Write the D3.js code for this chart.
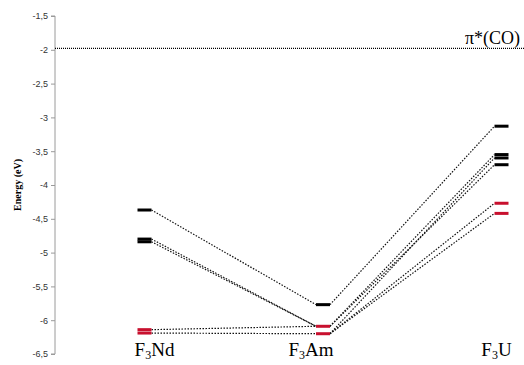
<!DOCTYPE html>
<html>
<head>
<meta charset="utf-8">
<script src="https://cdn.jsdelivr.net/npm/d3@7"></script>
<style>
  body { margin: 0; background: #fff; }
  svg { display: block; }
</style>
</head>
<body>
<div id="chart"></div>
<script>
// compounds on the x axis
var compounds = ["F3Nd", "F3Am", "F3U"];
// orbital energies (eV) for each compound, and if they are red (metal) levels
var ndLevels = [-4.37, -4.80, -4.84, -6.14, -6.19];
var ndRed    = [false, false, false, true, true];
var amLevels = [-5.77, -6.09, -6.20];
var amRed    = [false, true, true];
var uLevels  = [-3.13, -3.55, -3.60, -3.70, -4.27, -4.42];
var uRed     = [false, false, false, false, true, true];
// correlation lines: [from level index, to level index]
var ndToAm = [[0, 0], [1, 1], [2, 1], [3, 1], [4, 2]];
var amToU  = [[0, 0], [1, 1], [2, 2], [1, 3], [2, 4], [2, 5]];
var piCO = -2;
var yTicks = [-1.5, -2, -2.5, -3, -3.5, -4, -4.5, -5, -5.5, -6, -6.5];

var width = 524, height = 365;
var svg = d3.select("#chart").append("svg")
  .attr("width", width).attr("height", height);

var y = d3.scaleLinear().domain([-6.5, -1.5]).range([354, 16]);
var x = d3.scalePoint().domain(compounds).range([144.5, 501.5]);
var markW = 14;

var levels = {
  F3Nd: ndLevels.map((v, i) => ({v: v, red: ndRed[i]})),
  F3Am: amLevels.map((v, i) => ({v: v, red: amRed[i]})),
  F3U: uLevels.map((v, i) => ({v: v, red: uRed[i]}))
};

// y axis
var yAxis = d3.axisLeft(y).tickValues(yTicks).tickSize(4).tickPadding(3)
  .tickFormat(d => String(d).replace(".", ","));
var gy = svg.append("g").attr("transform", "translate(55,0)").call(yAxis);
gy.select(".domain").attr("stroke", "#9a9a9a").attr("d", "M-4,16H0V354H-4");
gy.selectAll(".tick line").attr("stroke", "#9a9a9a");
gy.selectAll(".tick text").attr("font-family", "Arial, 'Liberation Sans', sans-serif")
  .attr("font-size", 9).attr("fill", "#333");

svg.append("text")
  .attr("transform", "translate(21," + y(-4) + ") rotate(-90)")
  .attr("text-anchor", "middle")
  .attr("font-family", "'Liberation Serif', 'Times New Roman', serif")
  .attr("font-weight", "bold").attr("font-size", 10)
  .text("Energy (eV)");

// pi*(CO) reference line
svg.append("line")
  .attr("x1", 55).attr("x2", width)
  .attr("y1", y(piCO) - 1.5).attr("y2", y(piCO) - 1.5)
  .attr("stroke", "#000").attr("stroke-width", 1.2)
  .attr("stroke-dasharray", "1,1");
svg.append("text")
  .attr("x", 520).attr("y", y(piCO) - 6)
  .attr("text-anchor", "end")
  .attr("font-family", "'Liberation Serif', 'Times New Roman', serif")
  .attr("font-size", 18)
  .text("π*(CO)");

// correlation lines
function links(fromC, toC, pairs) {
  return pairs.map(p => ({
    x1: x(fromC) + markW / 2, y1: y(levels[fromC][p[0]].v),
    x2: x(toC) - markW / 2, y2: y(levels[toC][p[1]].v)
  }));
}
var allLinks = links("F3Nd", "F3Am", ndToAm).concat(links("F3Am", "F3U", amToU));
svg.append("g").selectAll("line").data(allLinks).join("line")
  .attr("x1", d => d.x1).attr("y1", d => d.y1)
  .attr("x2", d => d.x2).attr("y2", d => d.y2)
  .attr("stroke", "#111").attr("stroke-width", 1.2)
  .attr("stroke-dasharray", "1.5,1.5");

// level marks
compounds.forEach(function (c) {
  svg.append("g").selectAll("rect").data(levels[c]).join("rect")
    .attr("x", x(c) - markW / 2)
    .attr("y", d => y(d.v) - 1.5)
    .attr("width", markW).attr("height", 3)
    .attr("fill", d => d.red ? "#c8102e" : "#000");
});

// compound labels with subscript
compounds.forEach(function (c) {
  var t = svg.append("text")
    .attr("x", x(c) + (c === "F3Nd" ? 10 : c === "F3Am" ? -12 : -5))
    .attr("y", 356)
    .attr("text-anchor", "middle")
    .attr("font-family", "'Liberation Serif', 'Times New Roman', serif")
    .attr("font-size", 19);
  t.append("tspan").text(c[0]);
  t.append("tspan").attr("font-size", 12).attr("dy", 3).text(c[1]);
  t.append("tspan").attr("dy", -3).text(c.slice(2));
});
</script>
</body>
</html>
